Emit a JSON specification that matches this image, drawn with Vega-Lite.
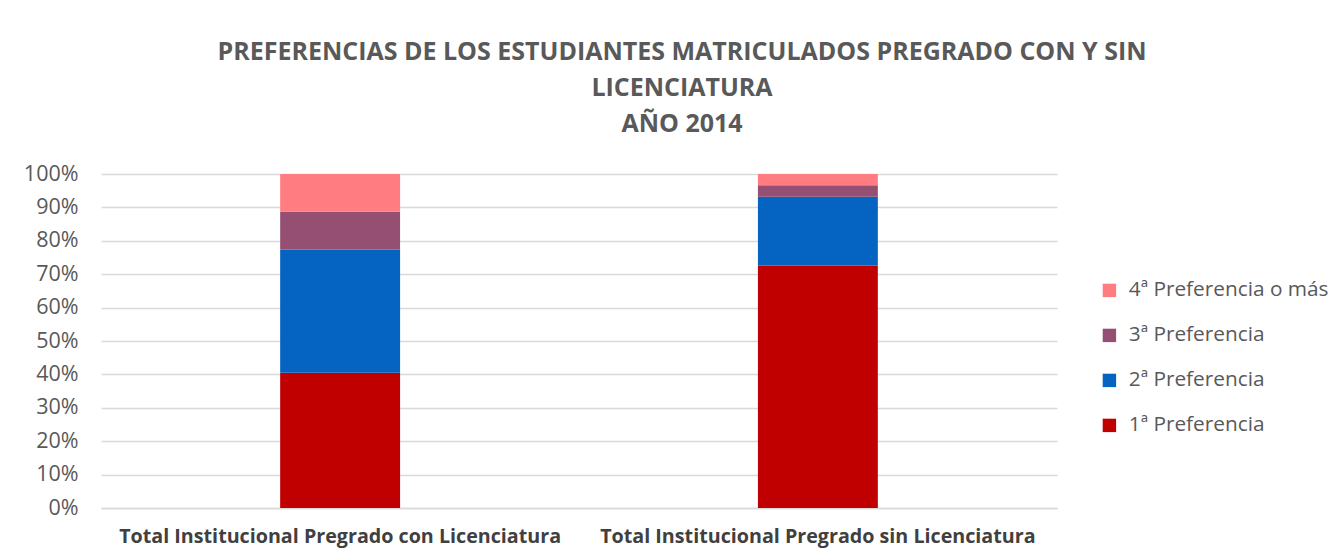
{
  "$schema": "https://vega.github.io/schema/vega-lite/v6.json",
  "autosize": "none",
  "width": 956,
  "height": 334,
  "padding": {"left": 101, "top": 174, "right": 285, "bottom": 52},
  "background": "white",
  "title": {
    "text": ["PREFERENCIAS DE LOS ESTUDIANTES MATRICULADOS PREGRADO CON Y SIN", "LICENCIATURA", "AÑO 2014"],
    "fontSize": 25,
    "font": "Open Sans",
    "fontWeight": "bold",
    "color": "#595959",
    "lineHeight": 36,
    "anchor": "middle",
    "dx": 103,
    "offset": 26
  },
  "data": {
    "values": [
      {"grupo": "Total Institucional Pregrado con Licenciatura", "preferencia": "1ª Preferencia", "orden": 1, "valor": 40.5},
      {"grupo": "Total Institucional Pregrado con Licenciatura", "preferencia": "2ª Preferencia", "orden": 2, "valor": 36.9},
      {"grupo": "Total Institucional Pregrado con Licenciatura", "preferencia": "3ª Preferencia", "orden": 3, "valor": 11.3},
      {"grupo": "Total Institucional Pregrado con Licenciatura", "preferencia": "4ª Preferencia o más", "orden": 4, "valor": 11.3},
      {"grupo": "Total Institucional Pregrado sin Licenciatura", "preferencia": "1ª Preferencia", "orden": 1, "valor": 72.6},
      {"grupo": "Total Institucional Pregrado sin Licenciatura", "preferencia": "2ª Preferencia", "orden": 2, "valor": 20.6},
      {"grupo": "Total Institucional Pregrado sin Licenciatura", "preferencia": "3ª Preferencia", "orden": 3, "valor": 3.4},
      {"grupo": "Total Institucional Pregrado sin Licenciatura", "preferencia": "4ª Preferencia o más", "orden": 4, "valor": 3.4}
    ]
  },
  "mark": {"type": "bar"},
  "encoding": {
    "x": {
      "field": "grupo",
      "type": "nominal",
      "sort": null,
      "scale": {"paddingInner": 0.749, "paddingOuter": 0.375},
      "axis": {
        "title": null,
        "labelAngle": 0,
        "labelFont": "Open Sans",
        "labelFontSize": 19.7,
        "labelFontWeight": "bold",
        "labelColor": "#404040",
        "labelPadding": 18,
        "ticks": false,
        "domainColor": "#d9d9d9",
        "domainWidth": 1.5,
        "labelLimit": 600,
        "labelOverlap": false
      }
    },
    "y": {
      "field": "valor",
      "type": "quantitative",
      "stack": "normalize",
      "scale": {"domain": [0, 1]},
      "axis": {
        "title": null,
        "format": ".0%",
        "values": [0, 0.1, 0.2, 0.3, 0.4, 0.5, 0.6, 0.7, 0.8, 0.9, 1],
        "labelOverlap": false,
        "labelFont": "Open Sans",
        "labelFontSize": 21.5,
        "labelColor": "#595959",
        "labelPadding": 23,
        "ticks": false,
        "domain": false,
        "gridColor": "#d9d9d9",
        "gridWidth": 1.5
      }
    },
    "color": {
      "field": "preferencia",
      "type": "nominal",
      "scale": {
        "domain": ["4ª Preferencia o más", "3ª Preferencia", "2ª Preferencia", "1ª Preferencia"],
        "range": ["#FF7C80", "#954F72", "#0563C1", "#C00000"]
      },
      "legend": {
        "title": null,
        "orient": "none",
        "legendX": 998,
        "legendY": 106,
        "symbolType": "square",
        "symbolSize": 180,
        "symbolStrokeWidth": 0,
        "labelFont": "Open Sans",
        "labelFontSize": 20.8,
        "labelColor": "#595959",
        "labelOffset": 9,
        "labelLimit": 300,
        "rowPadding": 23
      }
    },
    "order": {"field": "orden", "type": "quantitative", "sort": "ascending"}
  },
  "config": {"view": {"stroke": null}}
}
